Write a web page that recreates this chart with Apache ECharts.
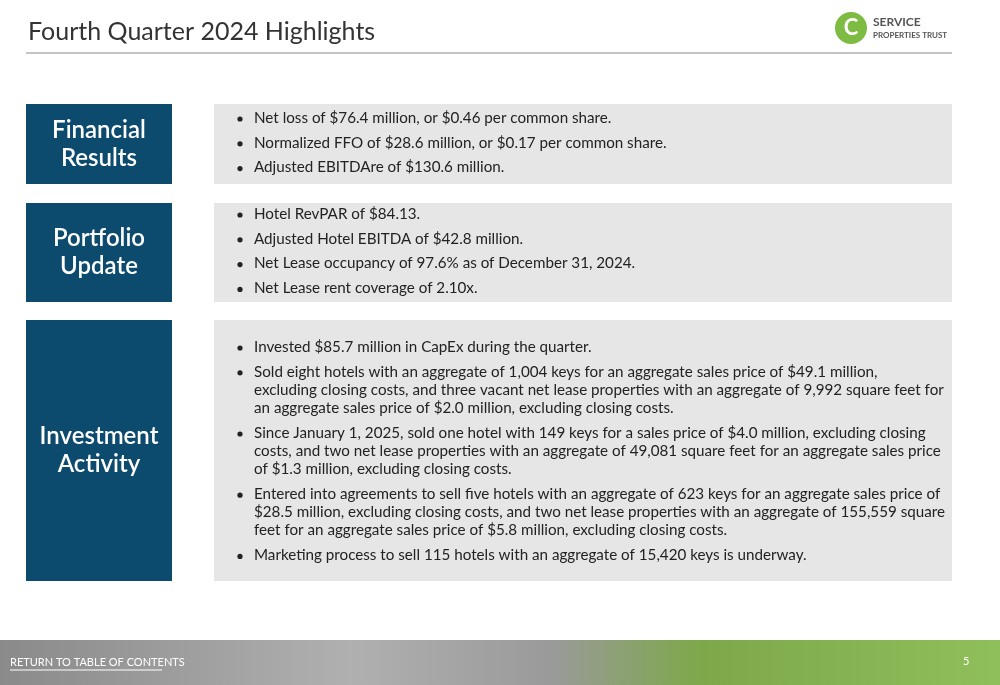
<!DOCTYPE html>
<html><head><meta charset="utf-8">
<script src="https://cdn.jsdelivr.net/npm/echarts@6/dist/echarts.min.js"></script>
<style>html,body{margin:0;padding:0;background:#fff}#slide{width:1000px;height:685px}</style>
</head><body><div id="slide"></div>
<script>
var title = 'Fourth Quarter 2024 Highlights';
var sections = ['Financial\nResults', 'Portfolio\nUpdate', 'Investment\nActivity'];
var financial = [
  ['Net loss of $76.4 million, or $0.46 per common share.'],
  ['Normalized FFO of $28.6 million, or $0.17 per common share.'],
  ['Adjusted EBITDAre of $130.6 million.']
];
var portfolio = [
  ['Hotel RevPAR of $84.13.'],
  ['Adjusted Hotel EBITDA of $42.8 million.'],
  ['Net Lease occupancy of 97.6% as of December 31, 2024.'],
  ['Net Lease rent coverage of 2.10x.']
];
var investment = [
  ['Invested $85.7 million in CapEx during the quarter.'],
  ['Sold eight hotels with an aggregate of 1,004 keys for an aggregate sales price of $49.1 million,',
   'excluding closing costs, and three vacant net lease properties with an aggregate of 9,992 square feet for',
   'an aggregate sales price of $2.0 million, excluding closing costs.'],
  ['Since January 1, 2025, sold one hotel with 149 keys for a sales price of $4.0 million, excluding closing',
   'costs, and two net lease properties with an aggregate of 49,081 square feet for an aggregate sales price',
   'of $1.3 million, excluding closing costs.'],
  ['Entered into agreements to sell five hotels with an aggregate of 623 keys for an aggregate sales price of',
   '$28.5 million, excluding closing costs, and two net lease properties with an aggregate of 155,559 square',
   'feet for an aggregate sales price of $5.8 million, excluding closing costs.'],
  ['Marketing process to sell 115 hotels with an aggregate of 15,420 keys is underway.']
];
var bullets = [financial, portfolio, investment];
var rows = [[104, 184], [203, 302], [320, 581]];
var firstLine = [118, 214, 347];

var chart = echarts.init(document.getElementById('slide'));
var font = 'Lato, "Open Sans", sans-serif';
var els = [];
els.push({type: 'text', left: 28, top: 19, style: {text: title, font: '25px ' + font, fill: '#333'}});
els.push({type: 'line', shape: {x1: 26, y1: 53, x2: 952, y2: 53}, style: {stroke: '#888', lineWidth: 1}});
// logo
els.push({type: 'circle', shape: {cx: 851, cy: 28, r: 16}, style: {fill: '#7dbb42'}});
els.push({type: 'text', x: 851, y: 28, style: {text: 'C', font: 'bold 22px ' + font, fill: '#fff', align: 'center', verticalAlign: 'middle'}});
els.push({type: 'text', left: 873, top: 16, style: {text: 'SERVICE', font: 'bold 12px ' + font, fill: '#555'}});
els.push({type: 'text', left: 873, top: 31, style: {text: 'PROPERTIES TRUST', font: 'bold 8px ' + font, fill: '#555'}});

rows.forEach(function (r, i) {
  els.push({type: 'rect', shape: {x: 26, y: r[0], width: 146, height: r[1] - r[0]}, style: {fill: '#0c4a6e'}});
  els.push({type: 'text', x: 99, y: (r[0] + r[1]) / 2, style: {text: sections[i], font: '600 24px ' + font, fill: '#fff', align: 'center', verticalAlign: 'middle', lineHeight: 28}});
  els.push({type: 'rect', shape: {x: 214, y: r[0], width: 738, height: r[1] - r[0]}, style: {fill: '#e6e6e6'}});
  var y = firstLine[i];
  bullets[i].forEach(function (b) {
    els.push({type: 'circle', shape: {cx: 240, cy: y + 1, r: 2.6}, style: {fill: '#222'}});
    b.forEach(function (line) {
      els.push({type: 'text', x: 254, y: y, style: {text: line, font: '15.2px ' + font, fill: '#222', verticalAlign: 'middle'}});
      y += 18.2;
    });
    y += 6.6;
  });
});

// footer band
els.push({type: 'rect', shape: {x: 0, y: 640, width: 1000, height: 45}, style: {fill: new echarts.graphic.LinearGradient(0, 0, 1, 0, [
  {offset: 0, color: '#8a8a8a'}, {offset: 0.35, color: '#b0b0b0'}, {offset: 0.55, color: '#9a9a9a'},
  {offset: 0.7, color: '#7da84a'}, {offset: 1, color: '#8fbf5a'}])}});
els.push({type: 'text', left: 10, top: 657, style: {text: 'RETURN TO TABLE OF CONTENTS', font: '11px ' + font, fill: '#fff'}});
els.push({type: 'line', shape: {x1: 10, y1: 670, x2: 162, y2: 670}, style: {stroke: '#fff', lineWidth: 1}});
els.push({type: 'text', left: 963, top: 656, style: {text: '5', font: '11px ' + font, fill: '#fff'}});

chart.setOption({animation: false, graphic: els});
</script></body></html>
